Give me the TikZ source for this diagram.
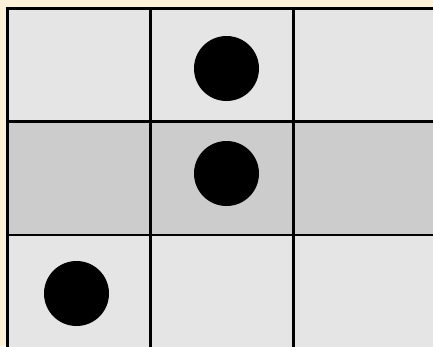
\documentclass[tikz,border=0pt]{standalone}
\usepackage{tikz}
\definecolor{cream}{RGB}{253,241,217}
\begin{document}
\begin{tikzpicture}[x=0.02cm,y=-0.02cm,line width=1.4pt]
  \useasboundingbox (0,0) rectangle (433,346);
  \clip (0,0) rectangle (433,346);
  \fill[cream] (0,0) rectangle (433,346);
  % board cells, middle row darker
  \foreach \r/\c in {0/gray!20,1/gray!40,2/gray!20}
    \foreach \k in {0,1,2}
      \draw[fill=\c] (7.5+143*\k,8+113.5*\r) rectangle ++(143,113.5);
  \draw[line width=1.7pt] (7.5,8) rectangle (436.5,348.5);
  % stones
  \foreach \n/\x/\y in {top/226.5/68.5,mid/226.5/173.5,low/76.5/293.5}
    \node[circle,fill=black,inner sep=0pt,minimum size=1.3cm] (\n) at (\x,\y) {};
\end{tikzpicture}
\end{document}
